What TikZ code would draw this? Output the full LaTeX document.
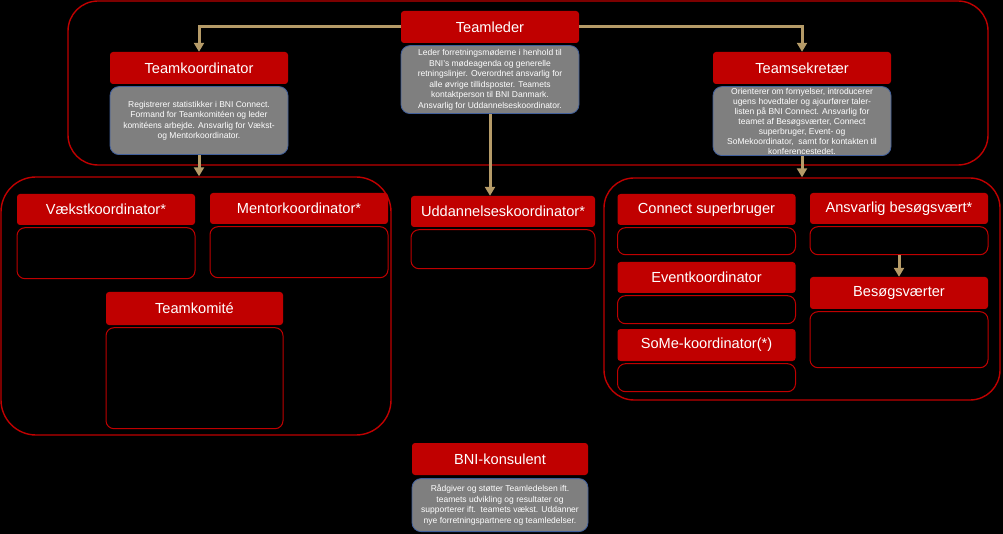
\documentclass[tikz,border=0pt]{standalone}
\usepackage{fontspec}
\setmainfont{Liberation Sans}
\usetikzlibrary{arrows.meta, positioning}

\definecolor{bnired}{RGB}{192,0,0}
\definecolor{notegray}{RGB}{127,127,127}
\definecolor{noteedge}{RGB}{65,95,155}
\definecolor{linktan}{RGB}{181,155,104}

\tikzset{
  rolehead/.style={fill=bnired, rounded corners=3pt, text=white, inner sep=0pt,
    minimum width=178pt, minimum height=32pt, font=\fontsize{14.6}{16}\selectfont},
  rolenote/.style={fill=notegray, draw=noteedge, line width=0.8pt, rounded corners=9pt,
    text=white, align=center, inner sep=0pt, minimum width=178pt,
    font=\fontsize{8.5}{10.5}\selectfont},
  roleslot/.style={draw=bnired, fill=black, line width=1pt, rounded corners=8pt,
    inner sep=0pt, minimum width=178pt},
  teamframe/.style={draw=bnired, line width=1.4pt, rounded corners=30pt, inner sep=0pt},
  link/.style={draw=linktan, line width=3pt, -{Triangle[width=10pt,length=9pt]}}
}

\begin{document}
\begin{tikzpicture}[x=1pt, y=-1pt]

        % ==========================================
        % BACKGROUND
        % ==========================================

        \fill[black] (0,0) rectangle (1003,534);
        \useasboundingbox (0,0) rectangle (1003,534);

        % Red frames round the three teams
        \node[teamframe, minimum width=920pt, minimum height=164pt] (topframe) at (528,83) {};
        \node[teamframe, rounded corners=35pt, minimum width=390pt, minimum height=258pt] (leftframe) at (196,306) {};
        \node[teamframe, minimum width=396pt, minimum height=222pt] (rightframe) at (802,289) {};


        % ==========================================
        % LEADERSHIP TEAM
        % ==========================================

        % Teamleder in the middle
        \node[rolehead] (leader) at (490,27) {Teamleder};
        \node[rolenote, minimum height=68pt, below=2pt of leader] (leadernote)
            {Leder forretningsmøderne i henhold til\\BNI's mødeagenda og generelle\\retningslinjer. Overordnet ansvarlig for\\alle øvrige tillidsposter. Teamets\\kontaktperson til BNI Danmark.\\Ansvarlig for Uddannelseskoordinator.};

        % Teamkoordinator on the left
        \node[rolehead] (koord) at (199,68) {Teamkoordinator};
        \node[rolenote, minimum height=68pt, below=2pt of koord] (koordnote)
            {Registrerer statistikker i BNI Connect.\\Formand for Teamkomitéen og leder\\komitéens arbejde. Ansvarlig for Vækst-\\og Mentorkoordinator.};

        % Teamsekretær on the right
        \node[rolehead] (sekr) at (802,68) {Teamsekretær};
        \node[rolenote, minimum height=69pt, font=\fontsize{8.5}{10}\selectfont, below=2pt of sekr] (sekrnote)
            {Orienterer om fornyelser, introducerer\\ugens hovedtaler og ajourfører taler-\\listen på BNI Connect. Ansvarlig for\\teamet af Besøgsværter, Connect\\superbruger, Event- og\\SoMekoordinator,~~samt for kontakten til\\konferencestedet.};


        % ==========================================
        % LEFT TEAM
        % ==========================================

        \node[rolehead, minimum height=31pt] (vaekst) at (106,209.5) {Vækstkoordinator*};
        \node[roleslot, minimum height=51pt, below=2pt of vaekst] (vaekstslot) {};

        \node[rolehead, minimum height=31pt] (mentor) at (299,208.5) {Mentorkoordinator*};
        \node[roleslot, minimum height=51pt, below=2pt of mentor] (mentorslot) {};

        \node[rolehead, minimum width=177pt, minimum height=33pt] (komite) at (194.5,308.5) {Teamkomité};
        \node[roleslot, minimum width=177pt, minimum height=101pt, below=2pt of komite] (komiteslot) {};


        % ==========================================
        % MIDDLE
        % ==========================================

        \node[rolehead, minimum width=184pt, minimum height=31pt] (udd) at (503,211.5) {Uddannelseskoordinator*};
        \node[roleslot, minimum width=184pt, minimum height=39pt, below=2pt of udd] (uddslot) {};

        \node[rolehead, minimum width=176pt] (konsulent) at (500,459) {BNI-konsulent};
        \node[rolenote, minimum width=176pt, minimum height=53pt, below=3pt of konsulent] (konsulentnote)
            {Rådgiver og støtter Teamledelsen ift.\\teamets udvikling og resultater og\\supporterer ift.~~teamets vækst. Uddanner\\nye forretningspartnere og teamledelser.};


        % ==========================================
        % RIGHT TEAM
        % ==========================================

        \node[rolehead, minimum height=31pt] (connect) at (706.5,209.5) {Connect superbruger};
        \node[roleslot, minimum height=27pt, below=2pt of connect] (connectslot) {};

        \node[rolehead, minimum height=31pt] (event) at (706.5,277.5) {Eventkoordinator};
        \node[roleslot, minimum height=28pt, below=2pt of event] (eventslot) {};

        \node[rolehead] (some) at (706.5,345) {SoMe-koordinator(*)};
        \node[roleslot, minimum height=28pt, below=2pt of some] (someslot) {};

        \node[rolehead, minimum height=31pt] (ansvarlig) at (899,208.5) {Ansvarlig besøgsvært*};
        \node[roleslot, minimum height=28pt, below=2pt of ansvarlig] (ansvarligslot) {};

        \node[rolehead] (besog) at (899,293) {Besøgsværter};
        \node[roleslot, minimum height=56pt, below=2pt of besog] (besogslot) {};


        % ==========================================
        % CONNECTORS
        % ==========================================

        \draw[link] (leader.west) -| (koord.north);
        \draw[link] (leader.east) -| (sekr.north);
        \draw[link] (koordnote.south) -- (koordnote.south |- leftframe.north);
        \draw[link] (sekrnote.south) -- (sekrnote.south |- rightframe.north);
        \draw[link] (leadernote.south) -- (leadernote.south |- udd.north);
        \draw[link] (ansvarligslot.south) -- (besog.north);

    \end{tikzpicture}
\end{document}
